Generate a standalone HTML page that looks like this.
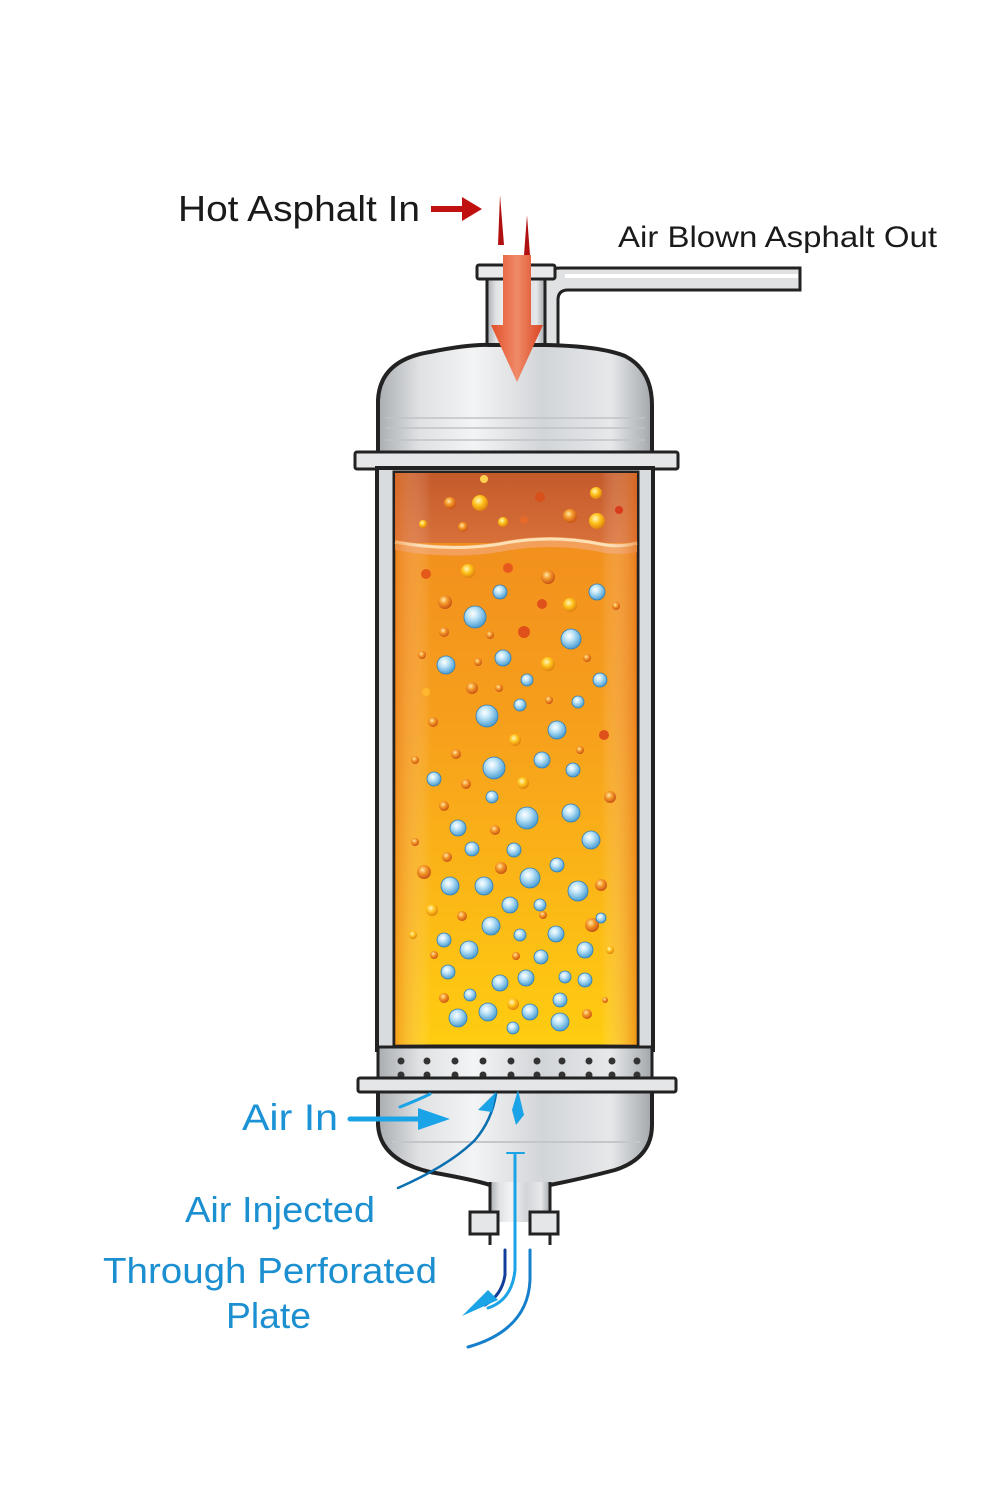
<!DOCTYPE html>
<html><head><meta charset="utf-8"><style>
html,body{margin:0;padding:0;background:#fff;}
svg{display:block;}
text{font-family:"Liberation Sans","DejaVu Sans",sans-serif;}
</style></head><body>
<svg width="1000" height="1500" viewBox="0 0 1000 1500" xmlns="http://www.w3.org/2000/svg">
<defs>
<linearGradient id="metal" x1="0" x2="1" y1="0" y2="0">
<stop offset="0" stop-color="#a9adb1"/><stop offset="0.15" stop-color="#dfe1e3"/><stop offset="0.35" stop-color="#f3f4f5"/><stop offset="0.6" stop-color="#d2d5d8"/><stop offset="0.85" stop-color="#e6e8ea"/><stop offset="1" stop-color="#a3a7ab"/>
</linearGradient>
<linearGradient id="liq" x1="0" x2="0" y1="0" y2="1">
<stop offset="0" stop-color="#f08a1e"/><stop offset="0.45" stop-color="#f7a01c"/><stop offset="1" stop-color="#ffcd10"/>
</linearGradient>
<linearGradient id="liqside" x1="0" x2="1" y1="0" y2="0">
<stop offset="0" stop-color="#e8731a" stop-opacity="0.5"/><stop offset="0.15" stop-color="#fff" stop-opacity="0"/><stop offset="0.85" stop-color="#fff" stop-opacity="0"/><stop offset="1" stop-color="#e26a14" stop-opacity="0.55"/>
</linearGradient>
<linearGradient id="top" x1="0" x2="0" y1="0" y2="1">
<stop offset="0" stop-color="#c45a2a"/><stop offset="1" stop-color="#d8703a"/>
</linearGradient>
<radialGradient id="bub" cx="0.4" cy="0.35" r="0.7">
<stop offset="0" stop-color="#ffffff"/><stop offset="0.35" stop-color="#bfe4f7"/><stop offset="1" stop-color="#3b95cf"/>
</radialGradient>
<radialGradient id="ob" cx="0.4" cy="0.35" r="0.7">
<stop offset="0" stop-color="#ffe9a8"/><stop offset="0.4" stop-color="#f59a2a"/><stop offset="1" stop-color="#c24a10"/>
</radialGradient>
<radialGradient id="yb" cx="0.4" cy="0.35" r="0.7">
<stop offset="0" stop-color="#fff7c0"/><stop offset="0.45" stop-color="#ffc21a"/><stop offset="1" stop-color="#d9780f"/>
</radialGradient>
<linearGradient id="redarr" x1="0" x2="1">
<stop offset="0" stop-color="#e2502a"/><stop offset="0.5" stop-color="#f08a68"/><stop offset="1" stop-color="#d94522"/>
</linearGradient>
</defs>

<!-- outlet pipe -->
<path d="M540 290 Q540 268 560 268 L800 268 L800 290 L568 290 Q558 290 558 300 L558 345 L540 345 Z" fill="#dfe1e3" stroke="#222" stroke-width="3"/>
<path d="M565 276 L798 276" stroke="#fff" stroke-width="4"/>

<!-- neck -->
<rect x="487" y="275" width="58" height="80" fill="url(#metal)" stroke="#222" stroke-width="3"/>
<rect x="477" y="265" width="78" height="14" rx="2" fill="#e8e9eb" stroke="#222" stroke-width="3"/>

<!-- top dome -->
<path d="M378 455 L378 400 Q380 360 430 352 Q470 344 490 345 L545 345 Q600 346 625 356 Q652 370 652 405 L652 455 Z" fill="url(#metal)" stroke="#222" stroke-width="4"/>
<path d="M385 418 L645 418 M385 428 L645 428 M385 440 L645 440" stroke="#bfc3c7" stroke-width="1.5"/>
<rect x="355" y="452" width="323" height="17" rx="2" fill="#e4e6e8" stroke="#222" stroke-width="3"/>

<!-- body shell -->
<rect x="377" y="468" width="276" height="582" fill="#d9dcdf" stroke="#222" stroke-width="4"/>
<rect x="394" y="472" width="244" height="574" fill="url(#liq)" stroke="#222" stroke-width="3"/>
<rect x="395" y="473" width="242" height="70" fill="url(#top)"/>
<path d="M395 540 Q450 550 500 542 Q550 532 600 542 Q620 546 637 541 L637 552 Q620 556 600 552 Q550 542 500 552 Q450 560 395 550 Z" fill="#f2a05a"/>
<path d="M395 542 Q450 552 500 544 Q550 534 600 544 Q620 548 637 543" fill="none" stroke="#fde0b5" stroke-width="3"/>
<rect x="395" y="473" width="242" height="572" fill="url(#liqside)"/>

<!-- orange/yellow dots -->
<g>
<circle cx="450" cy="503" r="6" fill="url(#ob)"/><circle cx="480" cy="503" r="8" fill="url(#yb)"/><circle cx="540" cy="497" r="5" fill="#d8501a"/><circle cx="570" cy="516" r="7" fill="url(#ob)"/><circle cx="597" cy="521" r="8" fill="url(#yb)"/><circle cx="596" cy="493" r="6" fill="url(#yb)"/><circle cx="463" cy="527" r="5" fill="url(#ob)"/><circle cx="503" cy="522" r="5" fill="url(#yb)"/><circle cx="524" cy="520" r="4" fill="#e56a2a"/><circle cx="619" cy="510" r="4" fill="#d83a1a"/><circle cx="423" cy="524" r="4" fill="url(#yb)"/><circle cx="484" cy="479" r="4" fill="#ffd050"/>
<circle cx="426" cy="574" r="5" fill="#e55a1a"/><circle cx="468" cy="571" r="7" fill="url(#yb)"/><circle cx="508" cy="568" r="5" fill="#e55a1a"/><circle cx="548" cy="577" r="7" fill="url(#ob)"/><circle cx="445" cy="602" r="7" fill="url(#ob)"/><circle cx="542" cy="604" r="5" fill="#e0501a"/><circle cx="570" cy="605" r="7" fill="url(#yb)"/><circle cx="616" cy="606" r="4" fill="url(#ob)"/><circle cx="444" cy="632" r="5" fill="url(#ob)"/><circle cx="490" cy="635" r="4" fill="url(#ob)"/><circle cx="524" cy="632" r="6" fill="#e0501a"/><circle cx="422" cy="655" r="4" fill="url(#ob)"/><circle cx="478" cy="662" r="4" fill="url(#ob)"/><circle cx="548" cy="664" r="7" fill="url(#yb)"/><circle cx="587" cy="658" r="4" fill="url(#ob)"/><circle cx="472" cy="688" r="6" fill="url(#ob)"/><circle cx="499" cy="688" r="4" fill="url(#ob)"/><circle cx="426" cy="692" r="4" fill="#ffb830"/><circle cx="549" cy="700" r="4" fill="url(#ob)"/><circle cx="433" cy="722" r="5" fill="url(#ob)"/><circle cx="515" cy="740" r="6" fill="url(#yb)"/><circle cx="604" cy="735" r="5" fill="#e0501a"/><circle cx="580" cy="750" r="4" fill="url(#ob)"/><circle cx="456" cy="754" r="5" fill="url(#ob)"/><circle cx="415" cy="760" r="4" fill="url(#ob)"/>
<circle cx="466" cy="784" r="5" fill="url(#ob)"/><circle cx="523" cy="783" r="6" fill="url(#yb)"/><circle cx="610" cy="797" r="6" fill="url(#ob)"/><circle cx="444" cy="806" r="5" fill="url(#ob)"/><circle cx="495" cy="830" r="5" fill="url(#ob)"/><circle cx="415" cy="842" r="4" fill="url(#ob)"/><circle cx="447" cy="857" r="5" fill="url(#ob)"/><circle cx="424" cy="872" r="7" fill="url(#ob)"/><circle cx="501" cy="868" r="6" fill="url(#ob)"/><circle cx="601" cy="885" r="6" fill="url(#ob)"/><circle cx="432" cy="910" r="6" fill="url(#yb)"/><circle cx="462" cy="916" r="5" fill="url(#ob)"/><circle cx="543" cy="915" r="4" fill="url(#ob)"/><circle cx="592" cy="925" r="7" fill="url(#ob)"/><circle cx="413" cy="935" r="4" fill="url(#yb)"/><circle cx="434" cy="955" r="4" fill="url(#ob)"/><circle cx="516" cy="956" r="4" fill="url(#ob)"/><circle cx="444" cy="998" r="5" fill="url(#ob)"/><circle cx="513" cy="1004" r="6" fill="url(#yb)"/><circle cx="587" cy="1014" r="5" fill="url(#ob)"/><circle cx="610" cy="950" r="4" fill="url(#yb)"/><circle cx="605" cy="1000" r="3" fill="url(#ob)"/>
</g>
<!-- blue bubbles -->
<g fill="url(#bub)" stroke="#2f7fb8" stroke-width="0.8">
<circle cx="500" cy="592" r="7"/><circle cx="597" cy="592" r="8"/><circle cx="475" cy="617" r="11"/><circle cx="571" cy="639" r="10"/><circle cx="446" cy="665" r="9"/><circle cx="503" cy="658" r="8"/><circle cx="527" cy="680" r="6"/><circle cx="600" cy="680" r="7"/><circle cx="487" cy="716" r="11"/><circle cx="520" cy="705" r="6"/><circle cx="557" cy="730" r="9"/><circle cx="578" cy="702" r="6"/><circle cx="494" cy="768" r="11"/><circle cx="542" cy="760" r="8"/><circle cx="434" cy="779" r="7"/><circle cx="573" cy="770" r="7"/><circle cx="492" cy="797" r="6"/><circle cx="527" cy="818" r="11"/><circle cx="571" cy="813" r="9"/><circle cx="458" cy="828" r="8"/><circle cx="591" cy="840" r="9"/><circle cx="514" cy="850" r="7"/><circle cx="472" cy="849" r="7"/><circle cx="530" cy="878" r="10"/><circle cx="450" cy="886" r="9"/><circle cx="484" cy="886" r="9"/><circle cx="578" cy="891" r="10"/><circle cx="557" cy="865" r="7"/><circle cx="510" cy="905" r="8"/><circle cx="540" cy="905" r="6"/><circle cx="491" cy="926" r="9"/><circle cx="556" cy="934" r="8"/><circle cx="444" cy="940" r="7"/><circle cx="469" cy="950" r="9"/><circle cx="520" cy="935" r="6"/><circle cx="585" cy="950" r="8"/><circle cx="541" cy="957" r="7"/><circle cx="500" cy="983" r="8"/><circle cx="526" cy="978" r="8"/><circle cx="448" cy="972" r="7"/><circle cx="565" cy="977" r="6"/><circle cx="585" cy="980" r="7"/><circle cx="458" cy="1018" r="9"/><circle cx="488" cy="1012" r="9"/><circle cx="530" cy="1012" r="8"/><circle cx="560" cy="1022" r="9"/><circle cx="513" cy="1028" r="6"/><circle cx="470" cy="995" r="6"/><circle cx="560" cy="1000" r="7"/><circle cx="601" cy="918" r="5"/>
</g>

<!-- perforated band -->
<rect x="378" y="1047" width="274" height="32" fill="url(#metal)" stroke="#222" stroke-width="3"/>
<g fill="#333">
<circle cx="401" cy="1061" r="3.5"/><circle cx="427" cy="1061" r="3.5"/><circle cx="455" cy="1061" r="3.5"/><circle cx="483" cy="1061" r="3.5"/><circle cx="511" cy="1061" r="3.5"/><circle cx="537" cy="1061" r="3.5"/><circle cx="562" cy="1061" r="3.5"/><circle cx="589" cy="1061" r="3.5"/><circle cx="612" cy="1061" r="3.5"/><circle cx="637" cy="1061" r="3.5"/>
<circle cx="401" cy="1075" r="3.5"/><circle cx="427" cy="1075" r="3.5"/><circle cx="455" cy="1075" r="3.5"/><circle cx="483" cy="1075" r="3.5"/><circle cx="511" cy="1075" r="3.5"/><circle cx="537" cy="1075" r="3.5"/><circle cx="562" cy="1075" r="3.5"/><circle cx="589" cy="1075" r="3.5"/><circle cx="612" cy="1075" r="3.5"/><circle cx="637" cy="1075" r="3.5"/>
</g>

<!-- bottom dome -->
<path d="M378 1090 L378 1125 Q380 1160 430 1172 Q475 1180 490 1185 L550 1185 Q585 1178 615 1170 Q652 1158 652 1125 L652 1090 Z" fill="url(#metal)" stroke="#222" stroke-width="4"/>
<path d="M392 1142 L640 1142" stroke="#c4c7ca" stroke-width="2"/>
<rect x="490" y="1182" width="60" height="40" fill="url(#metal)"/>
<path d="M490 1182 L490 1245 M550 1182 L550 1245" stroke="#222" stroke-width="3"/>
<rect x="470" y="1212" width="28" height="22" fill="#e4e6e8" stroke="#222" stroke-width="3"/>
<rect x="530" y="1212" width="28" height="22" fill="#e4e6e8" stroke="#222" stroke-width="3"/>
<rect x="358" y="1078" width="318" height="14" rx="2" fill="#e4e6e8" stroke="#222" stroke-width="3"/>

<!-- red arrows -->
<path d="M500 195 L504 245 L498 245 Z" fill="#b01010"/>
<path d="M527 215 L530 255 L524 255 Z" fill="#b01010"/>
<path d="M503 255 L531 255 L531 325 L543 325 L517 382 L491 325 L503 325 Z" fill="url(#redarr)"/>
<path d="M431 206 L462 206 L462 197 L482 209 L462 221 L462 212 L431 212 Z" fill="#c01010"/>

<!-- blue flow -->
<g fill="none" stroke-linecap="round">
<path d="M398 1188 Q450 1165 475 1140 Q492 1120 496 1094" stroke="#0b6fb0" stroke-width="2.5"/>
<path d="M350 1119 L425 1119" stroke="#1aa3e6" stroke-width="5"/>
<path d="M515 1155 L515 1270 Q512 1300 488 1308" stroke="#1aa3e6" stroke-width="3"/>
<path d="M505 1250 L505 1275 Q502 1295 485 1305" stroke="#123d9a" stroke-width="3"/>
<path d="M530 1250 L530 1280 Q528 1330 468 1347" stroke="#1780cc" stroke-width="3"/>
<path d="M507 1153 L524 1153" stroke="#1aa3e6" stroke-width="2"/>
<path d="M400 1107 Q420 1099 430 1094" stroke="#1aa3e6" stroke-width="3"/>
</g>
<path d="M418 1108 L450 1119 L418 1130 Z" fill="#1aa3e6"/>
<path d="M462 1316 L498 1300 L488 1290 Z" fill="#1aa3e6"/>
<path d="M478 1110 L496 1092 L492 1112 Z" fill="#1aa3e6"/>
<path d="M518 1090 L524 1115 L516 1125 L512 1110 Z" fill="#1aa3e6"/>

<!-- labels -->
<text x="178" y="221" font-size="36" fill="#1a1a1a" textLength="242" lengthAdjust="spacingAndGlyphs">Hot Asphalt In</text>
<text x="618" y="247" font-size="30" fill="#1a1a1a" textLength="319" lengthAdjust="spacingAndGlyphs">Air Blown Asphalt Out</text>
<text x="242" y="1130" font-size="37" fill="#1b93d6" textLength="96" lengthAdjust="spacingAndGlyphs">Air In</text>
<text x="185" y="1222" font-size="36" fill="#1b8fd0" textLength="190" lengthAdjust="spacingAndGlyphs">Air Injected</text>
<text x="103" y="1283" font-size="36" fill="#1b8fd0" textLength="334" lengthAdjust="spacingAndGlyphs">Through Perforated</text>
<text x="226" y="1328" font-size="36" fill="#1b8fd0" textLength="85" lengthAdjust="spacingAndGlyphs">Plate</text>
</svg>
</body></html>
